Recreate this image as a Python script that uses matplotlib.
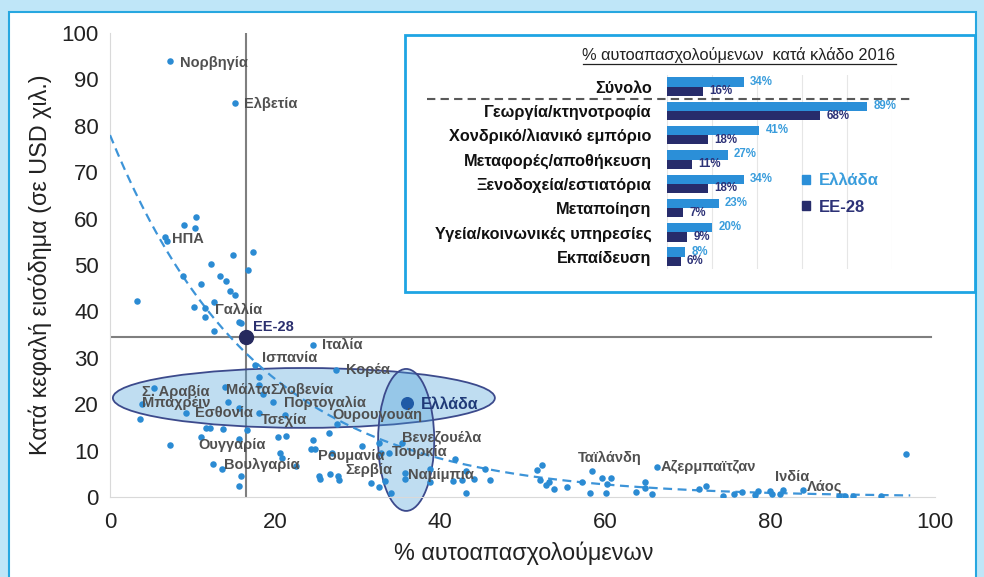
import numpy as np
import matplotlib.pyplot as plt
from matplotlib.patches import Ellipse, Rectangle, Patch
from matplotlib.lines import Line2D
from matplotlib.transforms import blended_transform_factory

plt.rcParams['font.family'] = ['Liberation Sans', 'DejaVu Sans']

# scatter: % self-employed (x) vs per capita income, thousand USD (y)
self_emp = [7.3, 15.2, 10.4, 9.0, 10.3, 6.7, 6.9, 14.9, 17.3, 12.3,
            16.7, 8.85, 13.3, 14.0, 11.0, 14.6, 15.2, 3.3, 12.6, 10.2,
            11.5, 11.5, 15.6, 15.9, 12.6, 24.6, 17.6, 18.0, 27.4, 5.3,
            13.9, 18.0, 18.6, 3.9, 14.3, 15.6, 19.7, 9.2, 18.0, 21.2,
            3.6, 27.5, 11.6, 12.1, 13.7, 16.6, 20.4, 21.3, 24.6, 26.6,
            11.0, 7.3, 15.6, 24.4, 24.8, 20.6, 20.8, 26.9, 30.6, 32.6,
            32.9, 35.4, 33.8, 12.5, 13.6, 15.9, 15.6, 22.6, 25.3, 25.5,
            26.7, 27.6, 27.8, 31.6, 32.6, 33.3, 34.1, 35.8, 35.8, 38.8,
            38.8, 41.8, 41.6, 42.7, 43.2, 44.1, 43.2, 45.4, 46.1, 51.7,
            52.4, 52.1, 53.2, 52.9, 53.8, 55.4, 57.2, 58.2, 58.4, 59.6,
            60.7, 60.2, 60.1, 63.8, 64.8, 64.8, 65.7, 66.3, 71.4, 72.2,
            74.3, 75.6, 76.6, 78.2, 78.6, 80.0, 80.2, 81.2, 81.6, 84.0,
            88.4, 89.1, 90.0, 93.5, 96.5]
income = [94.0, 85.0, 60.3, 58.6, 58.0, 56.1, 55.2, 52.2, 52.7, 50.3,
          48.9, 47.7, 47.6, 46.6, 46.0, 44.4, 43.5, 42.3, 42.1, 40.9,
          40.7, 38.9, 37.8, 37.4, 35.8, 32.8, 28.5, 25.9, 27.4, 23.4,
          23.8, 24.2, 22.3, 20.0, 20.5, 19.1, 20.4, 18.2, 18.0, 17.6,
          16.8, 15.7, 14.8, 14.8, 14.6, 14.4, 13.0, 13.1, 12.3, 13.9,
          12.9, 11.3, 12.4, 10.3, 10.3, 9.5, 8.3, 9.5, 11.0, 11.7,
          9.5, 11.6, 9.4, 7.2, 6.0, 4.5, 2.3, 6.7, 4.6, 3.8,
          4.9, 4.5, 3.7, 3.0, 2.2, 3.4, 0.8, 5.1, 3.8, 6.0,
          3.3, 8.2, 3.5, 3.7, 5.5, 3.8, 0.9, 6.1, 3.7, 5.9,
          7.0, 3.7, 3.3, 2.6, 1.7, 2.2, 3.3, 0.8, 5.5, 4.0,
          4.0, 2.7, 0.9, 1.0, 3.2, 1.9, 0.6, 6.4, 1.8, 2.3,
          0.2, 0.7, 1.1, 0.4, 1.3, 1.3, 0.6, 0.6, 1.5, 1.6,
          0.3, 0.3, 0.3, 0.15, 9.2]

ee28_x, ee28_y = 16.5, 34.5
greece_x, greece_y = 36.0, 20.3

# exponential trendline y = a * exp(b * x)
trend_a, trend_b = 78.0, -0.056
trend_end = 97

label_names = ['Νορβηγία', 'Ελβετία', 'ΗΠΑ', 'Γαλλία', 'Ιταλία', 'Ισπανία',
               'Κορέα', 'Σ. Αραβία', 'Μάλτα', 'Σλοβενία', 'Μπαχρέιν',
               'Πορτογαλία', 'Εσθονία', 'Τσεχία', 'Ουρουγουάη', 'Βενεζουέλα',
               'Τουρκία', 'Ουγγαρία', 'Ρουμανία', 'Βουλγαρία', 'Σερβία',
               'Ναμίμπια', 'Ταϊλάνδη', 'Αζερμπαϊτζαν', 'Ινδία', 'Λάος']
label_x = [8.5, 16.2, 7.5, 12.7, 25.7, 18.4, 28.6, 3.9, 14.1, 19.4, 3.9,
           21.1, 10.3, 18.3, 27.0, 35.4, 34.2, 10.7, 25.2, 13.8, 28.5,
           36.1, 56.7, 66.8, 80.6, 84.5]
label_y = [93.6, 84.8, 55.6, 40.3, 32.8, 30.0, 27.4, 22.6, 23.1, 23.1, 20.3,
           20.3, 18.1, 16.6, 17.7, 12.9, 9.7, 11.2, 8.8, 6.9, 5.8,
           4.7, 8.4, 6.5, 4.3, 2.4]

# inset: % self-employed by sector, 2016
sectors = ['Σύνολο', 'Γεωργία/κτηνοτροφία', 'Χονδρικό/λιανικό εμπόριο',
           'Μεταφορές/αποθήκευση', 'Ξενοδοχεία/εστιατόρια', 'Μεταποίηση',
           'Υγεία/κοινωνικές υπηρεσίες', 'Εκπαίδευση']
greece_share = [34, 89, 41, 27, 34, 23, 20, 8]
eu_share = [16, 68, 18, 11, 18, 7, 9, 6]

W, H = 984, 577


def fx(px):
    return px / W


def fy(py):
    return 1 - py / H


fig = plt.figure(figsize=(W / 100, H / 100), dpi=100)
fig.patch.set_facecolor('#bfe6f8')
fig.add_artist(Rectangle((fx(9), -0.01), fx(976) - fx(9), fy(12) + 0.01,
                         transform=fig.transFigure, facecolor='white',
                         edgecolor='#27a7e0', lw=1.5, zorder=-1))

# main scatter
ax = fig.add_axes([fx(110), fy(497), fx(935) - fx(110), (497 - 33) / H])
ax.set_facecolor('none')
ax.set_xlim(0, 100)
ax.set_ylim(0, 100)
ax.set_xticks(range(0, 101, 20))
ax.set_yticks(range(0, 101, 10))
ax.tick_params(length=0, labelsize=16, colors='#222222')
ax.tick_params(axis='y', pad=8)
ax.tick_params(axis='x', pad=11)
for s in ['top', 'right']:
    ax.spines[s].set_visible(False)
for s in ['left', 'bottom']:
    ax.spines[s].set_color('#d9d9d9')

ax.axvline(ee28_x, color='#7f7f7f', lw=1.5, zorder=1)
ax.plot([0, 99.5], [ee28_y, ee28_y], color='#7f7f7f', lw=1.5, zorder=1)

fill = (0.29, 0.62, 0.85, 0.35)
ax.add_patch(Ellipse((23.5, 21.35), 46.3, 12.9, facecolor=fill,
                     edgecolor='#3c4a8c', lw=1.3, zorder=2))
ax.add_patch(Ellipse((35.9, 12.3), 6.8, 30.6, facecolor=fill,
                     edgecolor='#3c4a8c', lw=1.3, zorder=2, clip_on=False))

tx = np.linspace(0, trend_end, 200)
ax.plot(tx, trend_a * np.exp(trend_b * tx), color='#3d94d8', lw=1.6,
        dashes=(4, 2.5), zorder=3)

ax.scatter(self_emp, income, s=22, color='#2b8bd3', linewidths=0, zorder=4)
ax.scatter([ee28_x], [ee28_y], s=100, color='#262a5e', zorder=5)
ax.scatter([greece_x], [greece_y], s=70, color='#1f5aa6', zorder=5)

for name, lx, ly in zip(label_names, label_x, label_y):
    ax.text(lx, ly, name, fontsize=10.5, fontweight='bold', color='#505050',
            ha='left', va='center', zorder=6)
ax.text(17.3, 36.6, 'ΕΕ-28', fontsize=10.5, fontweight='bold',
        color='#2b2f6e', ha='left', va='center', zorder=6)
ax.text(37.7, 20.0, 'Ελλάδα', fontsize=11.5, fontweight='bold',
        color='#1f3a78', ha='left', va='center', zorder=6)

fig.text(fx(40), fy(265), 'Κατά κεφαλή εισόδημα (σε USD χιλ.)', rotation=90,
         ha='center', va='center', fontsize=16.8, color='#222222')
fig.text(fx(524), fy(553), '% αυτοαπασχολούμενων', ha='center', va='center',
         fontsize=16.8, color='#222222')

# inset box and bar chart
fig.add_artist(Rectangle((fx(405), fy(292)), fx(975) - fx(405),
                         (292 - 35) / H, transform=fig.transFigure,
                         facecolor='white', edgecolor='#1ea5e3', lw=2,
                         zorder=1))

iax = fig.add_axes([fx(667), fy(268.8), fx(892) - fx(667), (268.8 - 74.5) / H],
                   zorder=2)
iax.set_facecolor('none')
pos = np.arange(len(sectors))
iax.barh(pos - 0.19, greece_share, height=0.38, color='#2b8fd8', zorder=2)
iax.barh(pos + 0.19, eu_share, height=0.38, color='#272c6b', zorder=2)
iax.set_xlim(0, 100)
iax.set_ylim(len(sectors) - 0.5, -0.5)
iax.set_xticks(range(0, 101, 20))
iax.grid(axis='x', color='#e6e6e6', lw=0.8, zorder=0)
iax.tick_params(axis='x', length=0, labelbottom=False)
iax.tick_params(axis='y', length=0, pad=11)
iax.set_yticks(pos)
iax.set_yticklabels(sectors, fontsize=11.7, fontweight='bold', color='#111111')
for s in iax.spines.values():
    s.set_visible(False)

for p, g, e in zip(pos, greece_share, eu_share):
    iax.text(g + 2.8, p - 0.21, f'{g}%', fontsize=8.3, fontweight='bold',
             color='#3a9ddc', va='center', ha='left', zorder=3)
    iax.text(e + 2.8, p + 0.19, f'{e}%', fontsize=8.3, fontweight='bold',
             color='#2d3277', va='center', ha='left', zorder=3)

sep = blended_transform_factory(iax.transAxes, iax.transData)
iax.plot([-1.067, 1.089], [0.5, 0.5], transform=sep, ls='--', dashes=(4, 2.5),
         color='#595959', lw=1.5, clip_on=False, zorder=3)

leg = iax.legend(handles=[Patch(color='#2b8fd8', label='Ελλάδα'),
                          Patch(color='#272c6b', label='ΕΕ-28')],
                 loc='center left', bbox_to_anchor=(0.6, 0.385),
                 borderaxespad=0, borderpad=0, frameon=False,
                 handlelength=0.45, handleheight=0.5, handletextpad=0.55,
                 labelspacing=0.68, prop={'weight': 'bold', 'size': 12})
leg.get_texts()[0].set_color('#3a9ddc')
leg.get_texts()[1].set_color('#2d3277')

title = fig.text(fx(739), fy(55), '% αυτοαπασχολούμενων  κατά κλάδο 2016',
                 ha='center', va='center', fontsize=11.8, color='#222222',
                 zorder=3)
fig.canvas.draw()
bb = title.get_window_extent()
fig.add_artist(Line2D([bb.x0 / W, bb.x1 / W], [(bb.y0 - 1) / H] * 2,
                      transform=fig.transFigure, color='#222222', lw=0.9,
                      zorder=3))

fig.savefig('out.png', dpi=100)
